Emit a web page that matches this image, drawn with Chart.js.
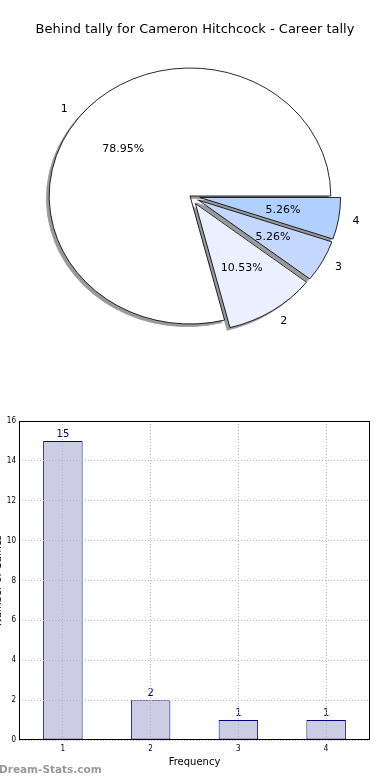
<!DOCTYPE html>
<html><head><meta charset="utf-8">
<script src="https://cdn.jsdelivr.net/npm/chart.js@4/dist/chart.umd.min.js"></script>
<style>
html,body{margin:0;padding:0;background:#fff;width:390px;height:780px;overflow:hidden;position:relative;font-family:"DejaVu Sans",sans-serif}
#pieWrap{position:absolute;left:0;top:0;width:390px;height:380px}
#barWrap{position:absolute;left:-10px;top:400px;width:400px;height:380px}
#wm{position:absolute;left:-1px;top:763px;font:bold 10.5px "DejaVu Sans";color:#999;white-space:nowrap}
canvas{display:block}
</style></head><body>
<div id="pieWrap"><canvas id="pie" width="390" height="380"></canvas></div>
<div id="barWrap"><canvas id="bar" width="400" height="380"></canvas></div>
<div id="wm">Dream-Stats.com</div>
<script>
// ---- data ----
const chartTitle = 'Behind tally for Cameron Hitchcock - Career tally';
const categories = ['1', '2', '3', '4'];
const counts = [15, 2, 1, 1];
const xTitle = 'Frequency';
const yTitle = 'Number of Games';
const yMin = 0, yMax = 16, yStep = 2;

// ---- styles ----
const sliceColors = ['#ffffff', '#eaf0ff', '#c4d8ff', '#b0d0ff'];
const EXPLODE = [0, 9, 9, 9];          // px, per category
const PIE_SCALE_X = 1.1;               // elliptical pie (matplotlib aspect)
const PIE_SHIFT_X = -5;
const SHADOW = {dx: -2.8, dy: 2.6, alpha: 0.4};
const FONT = '"DejaVu Sans", sans-serif';
const TICK_FONT = '"DejaVu Sans Condensed", "DejaVu Sans", sans-serif';

const total = counts.reduce((a, b) => a + b, 0);
// matplotlib draws counter-clockwise from 3 o'clock; Chart.js draws clockwise -> reverse order
const pieOrder = categories.map((_, i) => i).reverse();

function ellipse(ctx, arc) {
  ctx.translate(arc.x + PIE_SHIFT_X, arc.y);
  ctx.scale(PIE_SCALE_X, 1);
  ctx.translate(-arc.x, -arc.y);
}

const pieDecor = {
  id: 'pieDecor',
  beforeDatasetsDraw(chart) {
    const meta = chart.getDatasetMeta(0);
    meta.data.forEach((arc, j) => {
      if (arc._exploded) return;
      const cat = pieOrder[j];
      const orig = arc.draw;
      arc.draw = function (ctx, area) {
        const mid = (this.startAngle + this.endAngle) / 2;
        const e = EXPLODE[cat];
        ctx.save();
        ctx.translate(Math.cos(mid) * e, Math.sin(mid) * e);
        orig.call(this, ctx, area);
        ctx.restore();
      };
      arc._exploded = true;
    });
    const ctx = chart.ctx;
    const a0 = meta.data[0];
    // shadow pass on offscreen canvas
    const off = document.createElement('canvas');
    off.width = chart.canvas.width; off.height = chart.canvas.height;
    const octx = off.getContext('2d');
    octx.translate(SHADOW.dx, SHADOW.dy);
    ellipse(octx, a0);
    meta.data.forEach(a => a.draw(octx, chart.chartArea));
    octx.setTransform(1, 0, 0, 1, 0, 0);
    octx.globalCompositeOperation = 'source-in';
    octx.fillStyle = '#000';
    octx.fillRect(0, 0, off.width, off.height);
    ctx.save();
    ctx.globalAlpha = SHADOW.alpha;
    ctx.drawImage(off, 0, 0, chart.width, chart.height);
    ctx.restore();
    ctx.save();
    ellipse(ctx, a0);
  },
  afterDatasetsDraw(chart) {
    const ctx = chart.ctx;
    ctx.restore();
    const meta = chart.getDatasetMeta(0);
    ctx.save();
    ctx.font = '11px ' + FONT;
    ctx.fillStyle = '#000';
    ctx.textBaseline = 'middle';
    meta.data.forEach((arc, j) => {
      const cat = pieOrder[j];
      const mid = (arc.startAngle + arc.endAngle) / 2;
      const e = EXPLODE[cat];
      const R = arc.outerRadius;
      const px = f => arc.x + PIE_SHIFT_X + PIE_SCALE_X * (e + f * R) * Math.cos(mid);
      const py = f => arc.y + (e + f * R) * Math.sin(mid);
      ctx.textAlign = 'center';
      ctx.fillText((counts[cat] / total * 100).toFixed(2) + '%', px(0.6), py(0.6));
      ctx.textAlign = Math.cos(mid) >= 0 ? 'left' : 'right';
      ctx.fillText(categories[cat], px(1.1), py(1.1));
    });
    ctx.restore();
  }
};

new Chart(document.getElementById('pie'), {
  type: 'pie',
  data: {
    labels: pieOrder.map(i => categories[i]),
    datasets: [{
      data: pieOrder.map(i => counts[i]),
      backgroundColor: pieOrder.map(i => sliceColors[i]),
      borderColor: '#000',
      borderWidth: 0.8,
      radius: 128,
      rotation: 90
    }]
  },
  options: {
    responsive: false,
    animation: false,
    events: [],
    rotation: 90,
    layout: {padding: {top: 0, bottom: 35.6, left: 0, right: 0}},
    plugins: {
      legend: {display: false},
      tooltip: {enabled: false},
      title: {
        display: true, text: chartTitle, color: '#000',
        font: {family: FONT, size: 13, weight: 'normal'},
        padding: {top: 22, bottom: 10}
      }
    }
  },
  plugins: [pieDecor]
});

const frame = {
  id: 'frame',
  afterDraw(chart) {
    const {ctx, chartArea: a} = chart;
    ctx.save();
    ctx.strokeStyle = '#000';
    ctx.lineWidth = 1;
    ctx.strokeRect(Math.round(a.left) + 0.5, Math.round(a.top) + 0.5,
      Math.round(a.right - a.left) - 1, Math.round(a.bottom - a.top) - 1);
    ctx.restore();
  }
};
const valueLabels = {
  id: 'valueLabels',
  afterDatasetsDraw(chart) {
    const ctx = chart.ctx;
    const meta = chart.getDatasetMeta(0);
    ctx.save();
    ctx.font = '10px ' + FONT;
    ctx.fillStyle = '#000080';
    ctx.textAlign = 'center';
    ctx.textBaseline = 'bottom';
    meta.data.forEach((bar, i) => ctx.fillText(String(counts[i]), bar.x, bar.y - 2));
    ctx.restore();
  }
};

const gridStyle = {offset: false, color: '#b4b4b4', lineWidth: 1, drawTicks: false, z: 1};
new Chart(document.getElementById('bar'), {
  type: 'bar',
  data: {
    labels: categories,
    datasets: [{
      data: counts,
      backgroundColor: '#ccccE5',
      borderColor: '#000080',
      borderWidth: 1,
      borderSkipped: false,
      categoryPercentage: 1,
      barPercentage: 0.45
    }]
  },
  options: {
    responsive: false,
    animation: false,
    events: [],
    layout: {padding: {top: 21, right: 20, left: 0, bottom: 0}},
    plugins: {legend: {display: false}, tooltip: {enabled: false}},
    scales: {
      x: {
        grid: gridStyle,
        border: {display: false, dash: [1, 2]},
        ticks: {font: {family: TICK_FONT, size: 8}, color: '#000', padding: 4},
        title: {display: true, text: xTitle, color: '#000', font: {family: FONT, size: 10}, padding: {top: 0, bottom: 12}},
        afterFit: s => { s.height = 40; }
      },
      y: {
        min: yMin, max: yMax,
        ticks: {stepSize: yStep, font: {family: TICK_FONT, size: 8}, color: '#000', padding: 3},
        grid: gridStyle,
        border: {display: false, dash: [1, 2]},
        title: {display: true, text: yTitle, color: '#000', font: {family: FONT, size: 10}, padding: {top: 2, bottom: 0}},
        afterFit: s => { s.width = 29; }
      }
    }
  },
  plugins: [frame, valueLabels]
});
</script>
</body></html>
